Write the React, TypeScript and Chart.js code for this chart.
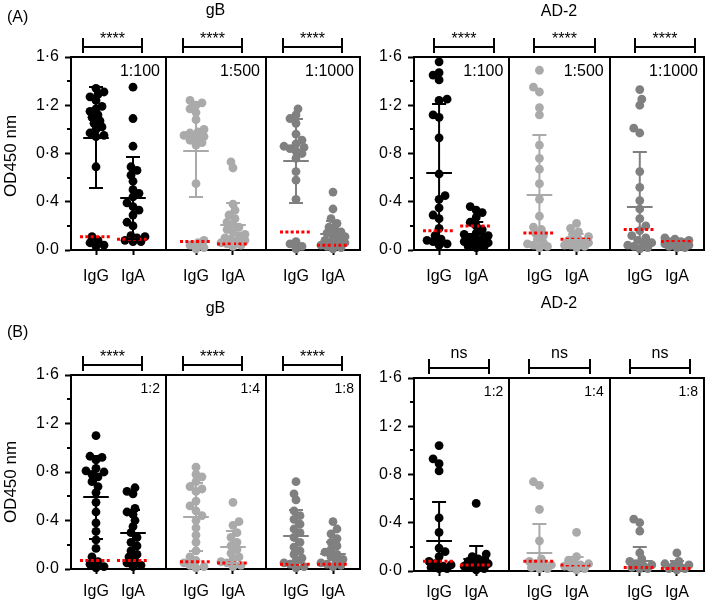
import React, { useEffect, useRef } from "react";
import { Chart, registerables } from "chart.js";
Chart.register(...registerables);

const FONT = "Arial, 'Liberation Sans', Helvetica, sans-serif";

const ISOTYPES = ["IgG", "IgA"];
const Y_TICK_VALUES = [0, 0.4, 0.8, 1.2, 1.6];
const Y_TICK_LABELS = ["0·0", "0·4", "0·8", "1·2", "1·6"];
const Y_MINOR_TICKS = [0.2, 0.6, 1.0, 1.4];
const SUB_COLORS = ["#000000", "#aaaaaa", "#808080"];
const CUTOFF_COLOR = "#ff0000";

const DILUTIONS_A = ["1:100", "1:500", "1:1000"];
const DILUTIONS_B = ["1:2", "1:4", "1:8"];
const Y_TITLE = "OD450 nm";

// ---------- (A) gB ----------
const A_GB_IGG_100 = [1.34, 1.31, 1.29, 1.27, 1.24, 1.19, 1.17, 1.15, 1.12, 1.10, 1.07, 1.05, 1.02, 1.00, 0.97, 0.95, 0.94, 0.69, 0.11, 0.08, 0.06, 0.04, 0.03];
const A_GB_IGA_100 = [1.35, 1.09, 0.86, 0.69, 0.66, 0.62, 0.57, 0.50, 0.47, 0.44, 0.39, 0.36, 0.33, 0.29, 0.23, 0.20, 0.12, 0.11, 0.10, 0.08, 0.07, 0.07];
const A_GB_IGG_500 = [1.24, 1.22, 1.20, 1.17, 1.14, 1.08, 1.00, 0.98, 0.97, 0.95, 0.94, 0.93, 0.91, 0.89, 0.87, 0.55, 0.08, 0.06, 0.04, 0.02, 0.01];
const A_GB_IGA_500 = [0.73, 0.68, 0.38, 0.33, 0.29, 0.26, 0.23, 0.21, 0.19, 0.17, 0.15, 0.13, 0.12, 0.10, 0.09, 0.08, 0.07, 0.06, 0.05, 0.04, 0.03];
const A_GB_IGG_1000 = [1.17, 1.12, 1.09, 1.05, 0.96, 0.91, 0.88, 0.86, 0.85, 0.84, 0.82, 0.80, 0.76, 0.65, 0.58, 0.42, 0.07, 0.05, 0.03, 0.01];
const A_GB_IGA_1000 = [0.48, 0.34, 0.26, 0.22, 0.19, 0.17, 0.15, 0.14, 0.12, 0.11, 0.10, 0.08, 0.07, 0.06, 0.05, 0.04, 0.03, 0.02, 0.01];
const A_GB_IGG_MEAN = [0.93, 0.82, 0.74];
const A_GB_IGG_SD = [0.42, 0.38, 0.35];
const A_GB_IGA_MEAN = [0.43, 0.21, 0.13];
const A_GB_IGA_SD = [0.34, 0.18, 0.11];
const A_GB_IGG_CUT = [0.11, 0.07, 0.15];
const A_GB_IGA_CUT = [0.09, 0.05, 0.04];
const A_GB_SIG = ["****", "****", "****"];

// ---------- (A) AD-2 ----------
const A_AD2_IGG_100 = [1.56, 1.47, 1.45, 1.41, 1.25, 1.24, 1.12, 1.10, 0.93, 0.63, 0.45, 0.42, 0.35, 0.29, 0.26, 0.18, 0.12, 0.09, 0.08, 0.07, 0.05, 0.04];
const A_AD2_IGA_100 = [0.36, 0.33, 0.31, 0.27, 0.23, 0.20, 0.17, 0.14, 0.13, 0.12, 0.10, 0.09, 0.08, 0.07, 0.06, 0.05, 0.04, 0.03, 0.03, 0.02];
const A_AD2_IGG_500 = [1.49, 1.35, 1.31, 1.18, 1.12, 0.87, 0.76, 0.67, 0.55, 0.42, 0.28, 0.19, 0.17, 0.14, 0.12, 0.09, 0.06, 0.05, 0.04, 0.03, 0.02];
const A_AD2_IGA_500 = [0.22, 0.18, 0.15, 0.13, 0.11, 0.09, 0.08, 0.07, 0.06, 0.06, 0.05, 0.04, 0.04, 0.03, 0.02];
const A_AD2_IGG_1000 = [1.33, 1.25, 1.20, 1.01, 0.97, 0.65, 0.52, 0.41, 0.34, 0.26, 0.20, 0.16, 0.12, 0.10, 0.08, 0.06, 0.05, 0.04, 0.03, 0.02, 0.01];
const A_AD2_IGA_1000 = [0.10, 0.09, 0.08, 0.07, 0.07, 0.06, 0.05, 0.05, 0.04, 0.04, 0.03, 0.03, 0.02, 0.02];
const A_AD2_IGG_MEAN = [0.64, 0.46, 0.36];
const A_AD2_IGG_SD = [0.57, 0.49, 0.45];
const A_AD2_IGA_MEAN = [0.13, 0.08, 0.06];
const A_AD2_IGA_SD = [0.10, 0.05, 0.03];
const A_AD2_IGG_CUT = [0.16, 0.14, 0.17];
const A_AD2_IGA_CUT = [0.20, 0.09, 0.07];
const A_AD2_SIG = ["****", "****", "****"];

// ---------- (B) gB ----------
const B_GB_IGG_2 = [1.10, 0.93, 0.92, 0.90, 0.83, 0.81, 0.80, 0.78, 0.76, 0.72, 0.68, 0.63, 0.55, 0.47, 0.38, 0.31, 0.24, 0.17, 0.10, 0.06, 0.04, 0.02, 0.01];
const B_GB_IGA_2 = [0.67, 0.64, 0.62, 0.50, 0.47, 0.45, 0.40, 0.35, 0.30, 0.26, 0.22, 0.19, 0.15, 0.12, 0.10, 0.07, 0.05, 0.03, 0.02];
const B_GB_IGG_4 = [0.84, 0.78, 0.76, 0.72, 0.68, 0.66, 0.64, 0.56, 0.52, 0.48, 0.44, 0.40, 0.34, 0.28, 0.22, 0.15, 0.10, 0.07, 0.05, 0.03, 0.02, 0.01];
const B_GB_IGA_4 = [0.55, 0.39, 0.36, 0.30, 0.26, 0.22, 0.19, 0.16, 0.13, 0.10, 0.08, 0.06, 0.05, 0.03, 0.02];
const B_GB_IGG_8 = [0.72, 0.62, 0.57, 0.48, 0.44, 0.41, 0.37, 0.33, 0.30, 0.26, 0.22, 0.18, 0.15, 0.12, 0.09, 0.07, 0.05, 0.04, 0.02, 0.01];
const B_GB_IGA_8 = [0.39, 0.33, 0.29, 0.25, 0.22, 0.19, 0.16, 0.14, 0.12, 0.10, 0.08, 0.06, 0.05, 0.04, 0.03, 0.02];
const B_GB_IGG_MEAN = [0.59, 0.43, 0.27];
const B_GB_IGG_SD = [0.34, 0.28, 0.22];
const B_GB_IGA_MEAN = [0.30, 0.18, 0.12];
const B_GB_IGA_SD = [0.19, 0.13, 0.10];
const B_GB_IGG_CUT = [0.07, 0.06, 0.04];
const B_GB_IGA_CUT = [0.07, 0.05, 0.04];
const B_GB_SIG = ["****", "****", "****"];

// ---------- (B) AD-2 ----------
const B_AD2_IGG_2 = [1.04, 0.93, 0.89, 0.83, 0.44, 0.32, 0.19, 0.16, 0.12, 0.08, 0.06, 0.05, 0.04, 0.03, 0.02, 0.02];
const B_AD2_IGA_2 = [0.56, 0.14, 0.12, 0.10, 0.09, 0.08, 0.07, 0.06, 0.05, 0.04, 0.03, 0.02, 0.01];
const B_AD2_IGG_4 = [0.74, 0.71, 0.51, 0.25, 0.10, 0.08, 0.06, 0.05, 0.04, 0.03, 0.02, 0.02];
const B_AD2_IGA_4 = [0.32, 0.12, 0.09, 0.07, 0.06, 0.05, 0.04, 0.03, 0.02, 0.01];
const B_AD2_IGG_8 = [0.43, 0.40, 0.33, 0.15, 0.10, 0.08, 0.06, 0.05, 0.04, 0.03, 0.02, 0.02];
const B_AD2_IGA_8 = [0.15, 0.08, 0.06, 0.05, 0.04, 0.03, 0.02, 0.02, 0.01];
const B_AD2_IGG_MEAN = [0.25, 0.15, 0.08];
const B_AD2_IGG_SD = [0.32, 0.24, 0.12];
const B_AD2_IGA_MEAN = [0.10, 0.06, 0.04];
const B_AD2_IGA_SD = [0.11, 0.06, 0.04];
const B_AD2_IGG_CUT = [0.08, 0.08, 0.03];
const B_AD2_IGA_CUT = [0.05, 0.05, 0.02];
const B_AD2_SIG = ["ns", "ns", "ns"];

// ---------- layout (styling only) ----------
const X_MIN = 0.05;
const X_MAX = 2.94;
const ISO_POS = [0.3, 0.67];
const X_AXIS_H = 34;
const POINT_R = 4.4;

type PanelCfg = {
  letter: string | null;
  antigen: string;
  dilutions: string[];
  igg: number[][];
  iga: number[][];
  iggMean: number[];
  iggSd: number[];
  igaMean: number[];
  igaSd: number[];
  iggCut: number[];
  igaCut: number[];
  sig: string[];
  box: { left: number; top: number; width: number; height: number };
  area: { left: number; top: number; right: number; bottom: number };
  titleY: number;
  letterY: number;
  yTitleY: number | null;
  bracket: [number, number];
  dilFont: number;
  dilBase: number;
  xPad: number;
};

const PANELS: PanelCfg[] = [
  {
    letter: "(A)", antigen: "gB", dilutions: DILUTIONS_A,
    igg: [A_GB_IGG_100, A_GB_IGG_500, A_GB_IGG_1000], iga: [A_GB_IGA_100, A_GB_IGA_500, A_GB_IGA_1000],
    iggMean: A_GB_IGG_MEAN, iggSd: A_GB_IGG_SD, igaMean: A_GB_IGA_MEAN, igaSd: A_GB_IGA_SD,
    iggCut: A_GB_IGG_CUT, igaCut: A_GB_IGA_CUT, sig: A_GB_SIG,
    box: { left: 0, top: 0, width: 365, height: 292 },
    area: { left: 71, top: 57, right: 360, bottom: 250 },
    titleY: 11, letterY: 18, yTitleY: 156, bracket: [0.17, 0.76], dilFont: 16, dilBase: 19, xPad: 12,
  },
  {
    letter: null, antigen: "AD-2", dilutions: DILUTIONS_A,
    igg: [A_AD2_IGG_100, A_AD2_IGG_500, A_AD2_IGG_1000], iga: [A_AD2_IGA_100, A_AD2_IGA_500, A_AD2_IGA_1000],
    iggMean: A_AD2_IGG_MEAN, iggSd: A_AD2_IGG_SD, igaMean: A_AD2_IGA_MEAN, igaSd: A_AD2_IGA_SD,
    iggCut: A_AD2_IGG_CUT, igaCut: A_AD2_IGA_CUT, sig: A_AD2_SIG,
    box: { left: 365, top: 0, width: 344, height: 292 },
    area: { left: 49, top: 57, right: 339, bottom: 250 },
    titleY: 12, letterY: 0, yTitleY: null, bracket: [0.25, 0.85], dilFont: 16, dilBase: 19, xPad: 12,
  },
  {
    letter: "(B)", antigen: "gB", dilutions: DILUTIONS_B,
    igg: [B_GB_IGG_2, B_GB_IGG_4, B_GB_IGG_8], iga: [B_GB_IGA_2, B_GB_IGA_4, B_GB_IGA_8],
    iggMean: B_GB_IGG_MEAN, iggSd: B_GB_IGG_SD, igaMean: B_GB_IGA_MEAN, igaSd: B_GB_IGA_SD,
    iggCut: B_GB_IGG_CUT, igaCut: B_GB_IGA_CUT, sig: B_GB_SIG,
    box: { left: 0, top: 292, width: 365, height: 308 },
    area: { left: 71, top: 83, right: 360, bottom: 277 },
    titleY: 17, letterY: 41, yTitleY: 190, bracket: [0.17, 0.76], dilFont: 14, dilBase: 18, xPad: 8,
  },
  {
    letter: null, antigen: "AD-2", dilutions: DILUTIONS_B,
    igg: [B_AD2_IGG_2, B_AD2_IGG_4, B_AD2_IGG_8], iga: [B_AD2_IGA_2, B_AD2_IGA_4, B_AD2_IGA_8],
    iggMean: B_AD2_IGG_MEAN, iggSd: B_AD2_IGG_SD, igaMean: B_AD2_IGA_MEAN, igaSd: B_AD2_IGA_SD,
    iggCut: B_AD2_IGG_CUT, igaCut: B_AD2_IGA_CUT, sig: B_AD2_SIG,
    box: { left: 365, top: 292, width: 344, height: 308 },
    area: { left: 49, top: 86, right: 339, bottom: 279 },
    titleY: 12, letterY: 0, yTitleY: null, bracket: [0.2, 0.8], dilFont: 14, dilBase: 18, xPad: 7,
  },
];

// deterministic beeswarm: horizontal offsets (axis units) so dots do not pile up
function swarm(values: number[], xppu: number, yppu: number): number[] {
  const order = values.map((_, i) => i).sort((a, b) => values[a] - values[b]);
  const placed: { x: number; y: number }[] = [];
  const out = new Array(values.length).fill(0);
  const minD = POINT_R * 2 * 0.72;
  const step = 2;
  const maxK = 6;
  let flip = 1;
  for (const i of order) {
    const y = values[i] * yppu;
    const cands: number[] = [0];
    for (let k = 1; k <= maxK; k++) cands.push(flip * k * step, -flip * k * step);
    let chosen = NaN;
    let best = 0;
    let bestD = -1;
    for (const c of cands) {
      let md = Infinity;
      for (const p of placed) md = Math.min(md, Math.hypot(p.x - c, p.y - y));
      if (md >= minD) { chosen = c; break; }
      if (md > bestD) { bestD = md; best = c; }
    }
    if (isNaN(chosen)) chosen = best;
    if (chosen !== 0) flip = -flip;
    placed.push({ x: chosen, y });
    out[i] = chosen / xppu;
  }
  return out;
}

function buildConfig(p: PanelCfg): any {
  const { area, box } = p;
  const xppu = (area.right - area.left) / (X_MAX - X_MIN);
  const yppu = (area.bottom - area.top) / 1.6;
  const series = [p.igg, p.iga];
  const cuts = [p.iggCut, p.igaCut];
  const means = [p.iggMean, p.igaMean];
  const sds = [p.iggSd, p.igaSd];

  const datasets: any[] = [];
  for (let i = 0; i < 3; i++) {
    for (let j = 0; j < 2; j++) {
      const cx = i + ISO_POS[j];
      datasets.push({
        type: "line",
        data: [{ x: cx - 0.16, y: cuts[j][i] }, { x: cx + 0.16, y: cuts[j][i] }],
        borderColor: CUTOFF_COLOR,
        borderWidth: 3,
        borderDash: [3, 2.35],
        borderCapStyle: "butt",
        pointRadius: 0,
        fill: false,
        order: 0,
        clip: false,
      });
    }
  }
  for (let i = 0; i < 3; i++) {
    for (let j = 0; j < 2; j++) {
      const vals = series[j][i];
      const offs = swarm(vals, xppu, yppu);
      datasets.push({
        type: "scatter",
        data: vals.map((v, k) => ({ x: i + ISO_POS[j] + offs[k], y: v })),
        backgroundColor: SUB_COLORS[i],
        borderWidth: 0,
        pointRadius: POINT_R,
        pointHoverRadius: POINT_R,
        order: 1,
        clip: false,
      });
    }
  }

  const xTickValues: number[] = [];
  for (let i = 0; i < 3; i++) for (let j = 0; j < 2; j++) xTickValues.push(i + ISO_POS[j]);

  const decor = {
    id: "decor",
    beforeDatasetsDraw(chart: any) {
      const { ctx, chartArea: a, scales } = chart;
      const x = scales.x;
      const y = scales.y;
      ctx.save();
      ctx.strokeStyle = "#000";
      ctx.lineWidth = 2;
      ctx.beginPath();
      ctx.moveTo(a.left, a.top);
      ctx.lineTo(a.right, a.top);
      ctx.lineTo(a.right, a.bottom);
      for (const d of [1, 2]) {
        const px = Math.round(x.getPixelForValue(d));
        ctx.moveTo(px, a.top);
        ctx.lineTo(px, a.bottom);
      }
      ctx.stroke();
      ctx.beginPath();
      for (const v of Y_MINOR_TICKS) {
        const py = Math.round(y.getPixelForValue(v));
        ctx.moveTo(a.left - 4, py);
        ctx.lineTo(a.left, py);
      }
      ctx.stroke();

      // dilution labels
      ctx.fillStyle = "#000";
      ctx.font = `${p.dilFont}px ${FONT}`;
      ctx.textAlign = "right";
      ctx.textBaseline = "alphabetic";
      for (let i = 0; i < 3; i++) {
        const rx = i < 2 ? x.getPixelForValue(i + 1) : a.right;
        ctx.fillText(p.dilutions[i], rx - 6, a.top + p.dilBase);
      }

      // significance brackets
      ctx.textAlign = "center";
      for (let i = 0; i < 3; i++) {
        const x1 = Math.round(x.getPixelForValue(i + p.bracket[0]));
        const x2 = Math.round(x.getPixelForValue(i + p.bracket[1]));
        const by = a.top - 10;
        ctx.beginPath();
        ctx.moveTo(x1, by);
        ctx.lineTo(x2, by);
        ctx.moveTo(x1, a.top - 19);
        ctx.lineTo(x1, a.top - 4);
        ctx.moveTo(x2, a.top - 19);
        ctx.lineTo(x2, a.top - 4);
        ctx.stroke();
        const s = p.sig[i];
        ctx.font = `16px ${FONT}`;
        ctx.fillText(s, (x1 + x2) / 2, s === "ns" ? a.top - 20 : a.top - 13);
      }

      // titles
      ctx.font = `16px ${FONT}`;
      ctx.textBaseline = "middle";
      ctx.textAlign = "center";
      ctx.fillText(p.antigen, (a.left + a.right) / 2, p.titleY);
      if (p.letter) {
        ctx.textAlign = "left";
        ctx.fillText(p.letter, 7, p.letterY);
      }
      if (p.yTitleY !== null) {
        ctx.save();
        ctx.translate(11, p.yTitleY);
        ctx.rotate(-Math.PI / 2);
        ctx.textAlign = "center";
        ctx.font = `17px ${FONT}`;
        ctx.fillText(Y_TITLE, 0, 0);
        ctx.restore();
      }
      ctx.restore();
    },
    afterDatasetsDraw(chart: any) {
      const { ctx, scales } = chart;
      const x = scales.x;
      const y = scales.y;
      ctx.save();
      ctx.lineWidth = 2;
      for (let i = 0; i < 3; i++) {
        for (let j = 0; j < 2; j++) {
          const m = means[j][i];
          const sd = sds[j][i];
          const cx = i + ISO_POS[j];
          const px = x.getPixelForValue(cx);
          const lo = Math.max(0, m - sd);
          const hi = m + sd;
          ctx.strokeStyle = SUB_COLORS[i];
          ctx.beginPath();
          ctx.moveTo(px, y.getPixelForValue(lo));
          ctx.lineTo(px, y.getPixelForValue(hi));
          const mp = Math.round(y.getPixelForValue(m));
          ctx.moveTo(x.getPixelForValue(cx - 0.128), mp);
          ctx.lineTo(x.getPixelForValue(cx + 0.128), mp);
          const hp = Math.round(y.getPixelForValue(hi));
          ctx.moveTo(x.getPixelForValue(cx - 0.07), hp);
          ctx.lineTo(x.getPixelForValue(cx + 0.07), hp);
          if (m - sd > 0) {
            const lp = Math.round(y.getPixelForValue(m - sd));
            ctx.moveTo(x.getPixelForValue(cx - 0.07), lp);
            ctx.lineTo(x.getPixelForValue(cx + 0.07), lp);
          }
          ctx.stroke();
        }
      }
      ctx.restore();
    },
  };

  return {
    type: "scatter",
    data: { datasets },
    options: {
      responsive: false,
      animation: false,
      events: [],
      layout: {
        padding: {
          left: 0,
          top: area.top,
          right: box.width - area.right,
          bottom: box.height - area.bottom - X_AXIS_H,
        },
      },
      plugins: {
        legend: { display: false },
        tooltip: { enabled: false },
        title: { display: false },
      },
      scales: {
        x: {
          type: "linear",
          min: X_MIN,
          max: X_MAX,
          afterFit: (s: any) => { s.height = X_AXIS_H; },
          afterBuildTicks: (s: any) => { s.ticks = xTickValues.map((v) => ({ value: v })); },
          ticks: {
            autoSkip: false,
            maxRotation: 0,
            minRotation: 0,
            padding: p.xPad,
            color: "#000",
            font: { family: FONT, size: 16 },
            callback: (_v: any, i: number) => ISOTYPES[i % 2],
          },
          grid: { drawOnChartArea: false, drawTicks: true, tickLength: 5, tickWidth: 2, tickColor: "#000" },
          border: { display: true, color: "#000", width: 2 },
        },
        y: {
          type: "linear",
          min: 0,
          max: 1.6,
          afterFit: (s: any) => { s.width = area.left; },
          afterBuildTicks: (s: any) => { s.ticks = Y_TICK_VALUES.map((v) => ({ value: v })); },
          ticks: {
            autoSkip: false,
            padding: 6,
            color: "#000",
            font: { family: FONT, size: 16 },
            callback: (_v: any, i: number) => Y_TICK_LABELS[i],
          },
          grid: { drawOnChartArea: false, drawTicks: true, tickLength: 6, tickWidth: 2, tickColor: "#000" },
          border: { display: true, color: "#000", width: 2 },
        },
      },
    },
    plugins: [decor],
  };
}

function PanelChart({ cfg }: { cfg: PanelCfg }) {
  const ref = useRef<HTMLCanvasElement | null>(null);
  useEffect(() => {
    if (!ref.current) return;
    const chart = new Chart(ref.current, buildConfig(cfg));
    return () => chart.destroy();
  }, [cfg]);
  const { left, top, width, height } = cfg.box;
  return (
    <div style={{ position: "absolute", left, top, width, height }}>
      <canvas ref={ref} width={width} height={height} style={{ width, height, display: "block" }} />
    </div>
  );
}

export default function App() {
  return (
    <div style={{ position: "fixed", left: 0, top: 0, width: 709, height: 600, background: "#fff", overflow: "hidden" }}>
      {PANELS.map((p, i) => (
        <PanelChart key={i} cfg={p} />
      ))}
    </div>
  );
}
